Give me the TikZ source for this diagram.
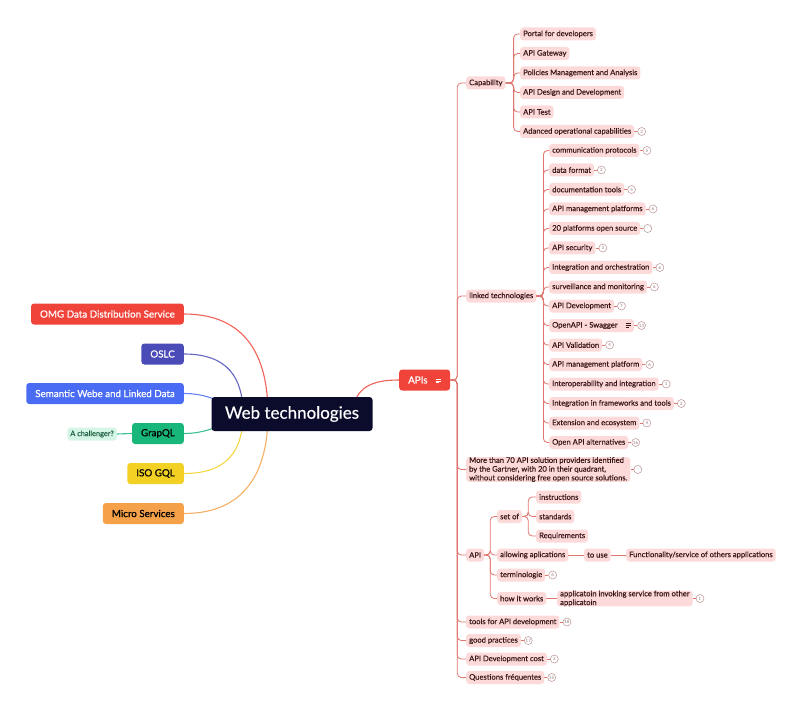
\documentclass[tikz,border=0pt]{standalone}
\usepackage{fontspec}
\setmainfont{Lato}
\newfontfamily\medfont{Lato}[FakeBold=0.35]
\newfontfamily\semifont{Lato}[FakeBold=0.8]
\usetikzlibrary{positioning}

\definecolor{hubnavy}{HTML}{0B0B2B}
\definecolor{omgred}{HTML}{F0443A}
\definecolor{oslcind}{HTML}{4B4BB8}
\definecolor{semblue}{HTML}{4A6CF5}
\definecolor{gqlgreen}{HTML}{19B67A}
\definecolor{chalfill}{HTML}{D5F5E6}
\definecolor{chaltext}{HTML}{1F5F40}
\definecolor{isoyellow}{HTML}{F2D024}
\definecolor{microorange}{HTML}{F5A14A}
\definecolor{leaffill}{HTML}{FDDADA}
\definecolor{leaftext}{HTML}{3A1616}
\definecolor{branchcol}{HTML}{E0766F}
\definecolor{badgeline}{HTML}{B89090}

\pgfdeclarelayer{bg}
\pgfsetlayers{bg,main}

% small "notes" glyph: three stacked bars
\newcommand\notesglyph{\raisebox{0.3pt}{\vbox{\hrule width 5.5pt height 0.7pt\vskip1.2pt
  \hrule width 5.5pt height 0.7pt\vskip1.2pt\hrule width 3.5pt height 0.7pt}}}

\tikzset{
  x=1pt, y=-1pt,
  leaf/.style={anchor=west, fill=leaffill, text=leaftext, rounded corners=3pt,
    inner xsep=3pt, inner ysep=0pt, minimum height=13pt,
    font=\medfont\fontsize{7.6}{8.8}\selectfont},
  badge/.style={circle, draw=badgeline, line width=0.5pt, minimum size=8pt,
    inner sep=0pt, text=badgeline!80!black, font=\fontsize{4.4}{5}\selectfont, right=3pt of #1},
  branch/.style={draw=branchcol, line width=0.8pt, rounded corners=4pt},
  topic/.style={anchor=east, rounded corners=3pt, minimum height=21pt,
    inner xsep=9pt, inner ysep=0pt, font=\semifont\fontsize{9.8}{11}\selectfont},
  spoke/.style={line width=1.1pt},
}

\begin{document}
\begin{tikzpicture}
\useasboundingbox (0,0) rectangle (800,711);

% ---- central topic and left-hand topics
\node[fill=hubnavy, text=white, rounded corners=3pt, minimum width=161pt,
      minimum height=34pt, font=\medfont\fontsize{17}{19}\selectfont] (hub) at (292,414) {Web technologies};

\node[topic, fill=omgred, text=white] (omg) at (184,314) {OMG Data Distribution Service};
\node[topic, fill=oslcind, text=white] (oslc) at (184,354) {OSLC};
\node[topic, fill=semblue, text=white] (sem) at (184,393.5) {Semantic Webe and Linked Data};
\node[topic, fill=gqlgreen, text=black] (gql) at (184,433.5) {GrapQL};
\node[anchor=east, fill=chalfill, text=chaltext, rounded corners=3pt, minimum height=13pt,
      inner xsep=3pt, inner ysep=0pt, font=\medfont\fontsize{7.4}{8}\selectfont] (chal) at (117,434) {A challenger?};
\node[topic, fill=isoyellow, text=black] (iso) at (184,473.5) {ISO GQL};
\node[topic, fill=microorange, text=black] (micro) at (184,513.5) {Micro Services};

\node[anchor=west, fill=omgred, text=white, rounded corners=3pt, minimum height=21pt,
      inner xsep=9pt, inner ysep=0pt, font=\semifont\fontsize{9.8}{11}\selectfont] (apis) at (399,380)
      {APIs\hspace{8pt}\notesglyph};

% hidden ends of the spokes, under the central box
\coordinate (hA) at (268,414);
\coordinate (hB) at (243,414);
\coordinate (hC) at (236,410);
\coordinate (hD) at (236,420);
\coordinate (hE) at (243,414);
\coordinate (hF) at (268,414);
\coordinate (hG) at (352,412);

\begin{pgfonlayer}{bg}
\draw[spoke, omgred!85] (omg.east) .. controls (245,314) and (268,355) .. (hA);
\draw[spoke, oslcind!85] (oslc.east) .. controls (228,354) and (243,378) .. (hB);
\draw[spoke, semblue!85] (sem.east) .. controls (205,393.5) and (218,400) .. (hC);
\draw[spoke, gqlgreen!85] (gql.east) .. controls (205,433.5) and (218,426) .. (hD);
\draw[spoke, isoyellow!85] (iso.east) .. controls (228,473.5) and (243,450) .. (hE);
\draw[spoke, microorange!85] (micro.east) .. controls (245,513.5) and (268,472) .. (hF);
\draw[spoke, omgred!85] (apis.west) .. controls (370,380) and (356,388) .. (hG);
\draw[spoke, gqlgreen!85] (gql.west) -- (chal.east);
\end{pgfonlayer}

% ---- first level under APIs
\node[leaf] (cap) at (466,83) {Capability};
\node[leaf] (lnk) at (466,296) {linked technologies};
\node[leaf, align=left] (gart) at (466,469.5) {More than 70 API solution providers identified\\by the Gartner, with 20 in their quadrant,\\without considering free open source solutions.};
\node[leaf] (api) at (466,555) {API};
\node[leaf] (tools) at (466,622) {tools for API development};
\node[leaf] (good) at (466,640.5) {good practices};
\node[leaf] (cost) at (466,659) {API Development cost};
\node[leaf] (faq) at (466,677.5) {Questions fréquentes};
\foreach \c in {cap,lnk,gart,api,tools,good,cost,faq}
  \draw[branch] (apis.east) -- ++(7,0) |- (\c.west);

% ---- Capability
\node[leaf] (c1) at (520,34) {Portal for developers};
\node[leaf] (c2) at (520,53.5) {API Gateway};
\node[leaf] (c3) at (520,73) {Policies Management and Analysis};
\node[leaf] (c4) at (520,92.5) {API Design and Development};
\node[leaf] (c5) at (520,112) {API Test};
\node[leaf] (c6) at (520,131.5) {Adanced operational capabilities};
\foreach \c in {c1,c2,c3,c4,c5,c6}
  \draw[branch] (cap.east) -- ++(8,0) |- (\c.west);

% ---- linked technologies
\node[leaf] (t1) at (549,150.5) {communication protocols};
\node[leaf] (t2) at (549,170) {data format};
\node[leaf] (t3) at (549,189.5) {documentation tools};
\node[leaf] (t4) at (549,209) {API management platforms};
\node[leaf] (t5) at (549,228.5) {20 platforms open source};
\node[leaf] (t6) at (549,248) {API security};
\node[leaf] (t7) at (549,267.5) {Integration and orchestration};
\node[leaf] (t8) at (549,287) {surveillance and monitoring};
\node[leaf] (t9) at (549,306) {API Development};
\node[leaf] (t10) at (549,325.5) {OpenAPI - Swagger\hspace{8pt}\notesglyph};
\node[leaf] (t11) at (549,345) {API Validation};
\node[leaf] (t12) at (549,364.5) {API management platform};
\node[leaf] (t13) at (549,384) {Interoperability and integration};
\node[leaf] (t14) at (549,403.5) {Integration in frameworks and tools};
\node[leaf] (t15) at (549,423) {Extension and ecosystem};
\node[leaf] (t16) at (549,442.5) {Open API alternatives};
\foreach \c in {t1,t2,t3,t4,t5,t6,t7,t8,t9,t10,t11,t12,t13,t14,t15,t16}
  \draw[branch] (lnk.east) -- ++(7,0) |- (\c.west);

% ---- API
\node[leaf] (setof) at (497,516.5) {set of};
\node[leaf] (allow) at (497,555) {allowing aplications};
\node[leaf] (term) at (497,575) {terminologie};
\node[leaf] (how) at (497,598.5) {how it works};
\foreach \c in {setof,allow,term,how}
  \draw[branch] (api.east) -- ++(6,0) |- (\c.west);

\node[leaf] (s1) at (536,497) {instructions};
\node[leaf] (s2) at (536,516.5) {standards};
\node[leaf] (s3) at (536,536) {Requirements};
\foreach \c in {s1,s2,s3}
  \draw[branch] (setof.east) -- ++(6,0) |- (\c.west);

\node[leaf] (touse) at (584,555) {to use};
\node[leaf] (func) at (626,555) {Functionality/service of others applications};
\draw[branch] (allow.east) -- (touse.west);
\draw[branch] (touse.east) -- (func.west);

\node[leaf, align=left] (invoke) at (557,598.5) {applicatoin invoking service from other\\applicatoin};
\draw[branch] (how.east) -- (invoke.west);

% ---- count badges
\foreach \n/\v in {c6/3, t1/5, t2/3, t3/5, t4/6, t5/{$\cdot\!\cdot\!\cdot$}, t6/3, t7/6, t8/6,
                   t9/7, t10/13, t11/4, t12/6, t13/1, t14/2, t15/4, t16/16,
                   gart/{$\cdot\!\cdot\!\cdot$}, term/6, invoke/1, tools/18, good/17, cost/2, faq/15} {
  \node[badge=\n] (b-\n) {\v};
  \draw[branch] (\n.east) -- (b-\n.west);
}
\end{tikzpicture}
\end{document}
